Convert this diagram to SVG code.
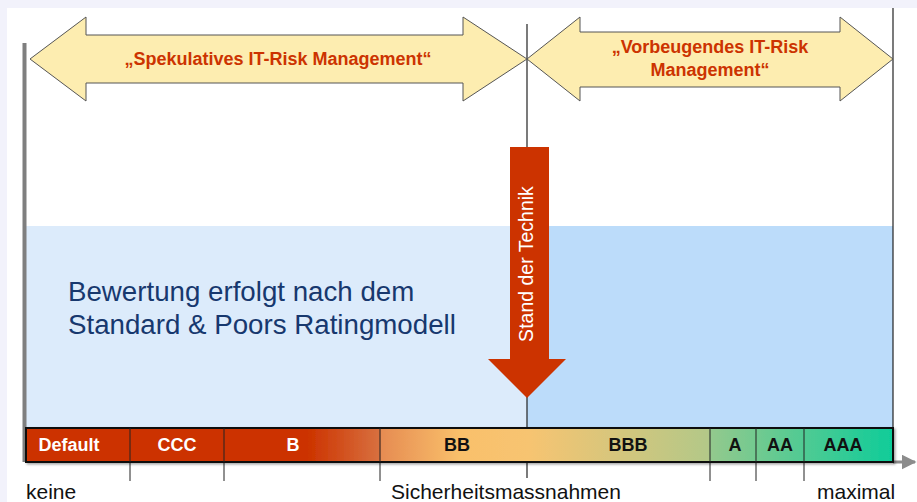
<svg xmlns="http://www.w3.org/2000/svg" width="917" height="502" viewBox="0 0 917 502">
<defs>
<linearGradient id="barGrad" gradientUnits="userSpaceOnUse" x1="26" y1="0" x2="893" y2="0">
<stop offset="0" stop-color="#cc3300"/>
<stop offset="0.325" stop-color="#cc3300"/>
<stop offset="0.408" stop-color="#d8703f"/>
<stop offset="0.410" stop-color="#e68c52"/>
<stop offset="0.50" stop-color="#f9c06b"/>
<stop offset="0.58" stop-color="#f7c471"/>
<stop offset="0.787" stop-color="#b3c888"/>
<stop offset="0.790" stop-color="#93c98d"/>
<stop offset="1" stop-color="#0fcc99"/>
</linearGradient>
<marker id="axisHead" viewBox="0 0 10 10" refX="9" refY="5" markerWidth="5" markerHeight="5" orient="auto" markerUnits="strokeWidth">
<path d="M0,0 L10,5 L0,10 z" fill="#8c8c8c"/>
</marker>
<filter id="sh" x="-5%" y="-20%" width="110%" height="150%">
<feDropShadow dx="1.5" dy="1.5" stdDeviation="1" flood-color="#000" flood-opacity="0.35"/>
</filter>
</defs>
<style>
.band{fill:#fdedb0;stroke:#555;stroke-width:1}
.bandTxt{font-family:"Liberation Sans",Arial,sans-serif;font-weight:bold;font-size:18px;fill:#cc3300;text-anchor:middle}
.lbl{font-family:"Liberation Sans",Arial,sans-serif;font-weight:bold;font-size:18px;text-anchor:middle}
.axTxt{font-family:"Liberation Sans",Arial,sans-serif;font-size:21px;fill:#111}
.tick{stroke:#222;stroke-width:1}
.vline{stroke:#222;stroke-width:1.2}
</style>
<rect x="0" y="0" width="917" height="502" fill="#f2f2fb"/>
<rect x="7" y="8" width="910" height="494" fill="#ffffff"/>

<g id="zones">
<rect x="26" y="226" width="501" height="202" fill="#dcebfb"/>
<rect x="527" y="226" width="366" height="202" fill="#bcdcfa"/>
</g>

<g id="connectors">
<line class="vline" x1="527" y1="24" x2="527" y2="478"/>
<line class="vline" x1="893" y1="8" x2="893" y2="428"/>
<line x1="24.5" y1="43" x2="24.5" y2="462" stroke="#7f7f7f" stroke-width="4"/>
<line x1="893" y1="462" x2="915" y2="462" stroke="#8c8c8c" stroke-width="3" marker-end="url(#axisHead)"/>
<line class="tick" x1="130" y1="462" x2="130" y2="481"/>
<line class="tick" x1="224" y1="462" x2="224" y2="481"/>
<line class="tick" x1="380" y1="462" x2="380" y2="481"/>
<line class="tick" x1="710" y1="462" x2="710" y2="481"/>
<line class="tick" x1="756" y1="462" x2="756" y2="481"/>
<line class="tick" x1="804" y1="462" x2="804" y2="481"/>
</g>

<g id="spekulativ">
<polygon class="band" points="30,59 86,17 86,35 463,35 463,17 527,59 463,101 463,83 86,83 86,101"/>
<text class="bandTxt" x="278" y="65">„Spekulatives IT-Risk Management“</text>
</g>

<g id="vorbeugend">
<polygon class="band" points="527,59 580,17 580,32 840,32 840,17 893,59 840,101 840,87 580,87 580,101"/>
<text class="bandTxt" x="710" y="53">„Vorbeugendes IT-Risk</text>
<text class="bandTxt" x="710" y="76">Management“</text>
</g>

<g id="bewertung">
<text font-family="Liberation Sans, Arial, sans-serif" font-size="27.7" fill="#17386e">
<tspan x="68" y="301">Bewertung erfolgt nach dem</tspan>
<tspan x="68" y="334">Standard &amp; Poors Ratingmodell</tspan>
</text>
</g>

<g id="stand-der-technik">
<polygon points="510,147 549,147 549,359 566,359 527,398 488,359 510,359" fill="#cc3300"/>
<text transform="translate(533,264) rotate(-90)" font-family="Liberation Sans, Arial, sans-serif" font-size="19.5" fill="#ffffff" text-anchor="middle">Stand der Technik</text>
</g>

<g id="rating-bar">
<rect x="26" y="428" width="867" height="34" fill="url(#barGrad)" stroke="#111" stroke-width="2" filter="url(#sh)"/>
<line class="tick" x1="130" y1="428" x2="130" y2="462"/>
<line class="tick" x1="224" y1="428" x2="224" y2="462"/>
<line class="tick" x1="380" y1="428" x2="380" y2="462"/>
<line class="tick" x1="710" y1="428" x2="710" y2="462"/>
<line class="tick" x1="756" y1="428" x2="756" y2="462"/>
<line class="tick" x1="804" y1="428" x2="804" y2="462"/>
<text class="lbl" x="69" y="451" fill="#ffffff">Default</text>
<text class="lbl" x="177" y="451" fill="#ffffff">CCC</text>
<text class="lbl" x="293" y="451" fill="#ffffff">B</text>
<text class="lbl" x="457" y="451" fill="#111">BB</text>
<text class="lbl" x="628" y="451" fill="#111">BBB</text>
<text class="lbl" x="735" y="451" fill="#111">A</text>
<text class="lbl" x="780" y="451" fill="#111">AA</text>
<text class="lbl" x="843" y="451" fill="#111">AAA</text>
</g>

<g id="axis-labels">
<text class="axTxt" x="26" y="499">keine</text>
<text class="axTxt" x="391" y="499">Sicherheitsmassnahmen</text>
<text class="axTxt" x="817" y="499">maximal</text>
</g>
</svg>
